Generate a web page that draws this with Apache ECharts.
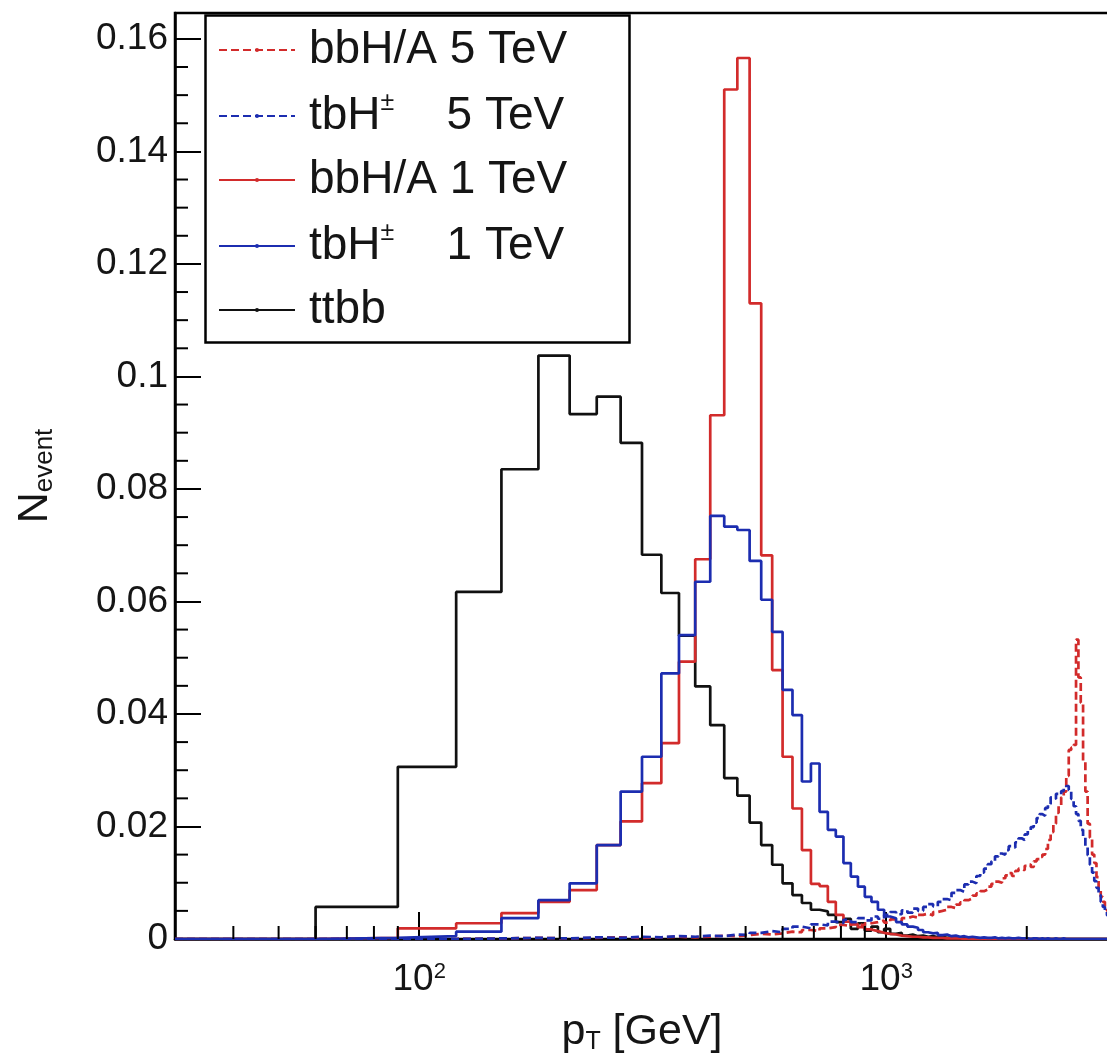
<!DOCTYPE html>
<html><head><meta charset="utf-8">
<script src="https://cdn.jsdelivr.net/npm/echarts@6/dist/echarts.min.js"></script>
<style>html,body{margin:0;padding:0;background:#fff}#c{width:1107px;height:1063px}</style>
</head><body><div id="c"></div>
<script>
// ---- binning (30 GeV bins from 30 to 3000 GeV) ----
const binWidth = 30;
const firstBinEdge = 30;
const xMin = 30, xMax = 3000;
const yMax = 0.1646;

const seriesNames = ['bbH/A 5 TeV', 'tbH\u00b1 5 TeV', 'bbH/A 1 TeV', 'tbH\u00b1 1 TeV', 'ttbb'];
const legendLabels = [
  '{f|bbH/A 5 TeV}',
  '{f|tbH}{s|\u00b1}{a|5 TeV}',
  '{f|bbH/A 1 TeV}',
  '{f|tbH}{s|\u00b1}{a|1 TeV}',
  '{f|ttbb}'
];

// bin contents, one value per 30 GeV bin (first bin 30-60 GeV)
const bbHA5 = [
  0, 0, 0, 0.0001, 0.0002, 0.0001, 0.0002, 0.0003, 0.0002, 0.0003,
  0.0004, 0.0003, 0.0004, 0.0006, 0.0005, 0.0007, 0.0009, 0.0008, 0.0010, 0.0013,
  0.0012, 0.0016, 0.0014, 0.0019, 0.0021, 0.0025, 0.0023, 0.0027, 0.0024, 0.0028,
  0.0030, 0.0033, 0.0029, 0.0035, 0.0032, 0.0037, 0.0040, 0.0038, 0.0043, 0.0045,
  0.0042, 0.0048, 0.0050, 0.0052, 0.0057, 0.0055, 0.0061, 0.0065, 0.0069, 0.0072,
  0.0077, 0.0081, 0.0085, 0.0088, 0.0093, 0.0098, 0.0102, 0.0100, 0.0108, 0.0113,
  0.0117, 0.0112, 0.0121, 0.0125, 0.0122, 0.0130, 0.0133, 0.0128, 0.0138, 0.0142,
  0.0146, 0.0150, 0.0160, 0.0176, 0.0190, 0.0205, 0.0224, 0.0236, 0.0252, 0.0262,
  0.0290, 0.0336, 0.0340, 0.0345, 0.0532, 0.0465, 0.0420, 0.0315, 0.0262, 0.0205,
  0.0180, 0.0150, 0.0135, 0.0110, 0.0090, 0.0075, 0.0066, 0.0056, 0.0050
];
const tbH5 = [
  0, 0, 0, 0.0001, 0.0002, 0.0001, 0.0003, 0.0002, 0.0004, 0.0003,
  0.0005, 0.0004, 0.0006, 0.0005, 0.0008, 0.0007, 0.0011, 0.0014, 0.0012, 0.0018,
  0.0022, 0.0019, 0.0026, 0.0024, 0.0031, 0.0028, 0.0034, 0.0030, 0.0037, 0.0033,
  0.0040, 0.0036, 0.0043, 0.0048, 0.0044, 0.0051, 0.0047, 0.0054, 0.0050, 0.0057,
  0.0062, 0.0058, 0.0066, 0.0071, 0.0069, 0.0082, 0.0087, 0.0084, 0.0097, 0.0102,
  0.0099, 0.0112, 0.0118, 0.0125, 0.0133, 0.0138, 0.0147, 0.0152, 0.0150, 0.0158,
  0.0165, 0.0162, 0.0172, 0.0179, 0.0176, 0.0186, 0.0192, 0.0199, 0.0207, 0.0215,
  0.0222, 0.0219, 0.0233, 0.0240, 0.0252, 0.0249, 0.0258, 0.0256, 0.0263, 0.0268,
  0.0272, 0.0265, 0.0249, 0.0236, 0.0222, 0.0210, 0.0194, 0.0181, 0.0163, 0.0149,
  0.0132, 0.0118, 0.0103, 0.0091, 0.0078, 0.0066, 0.0057, 0.0049, 0.0042
];
const bbHA1 = [
  0, 0.0002, 0.0019, 0.0028, 0.0046, 0.0066, 0.0087, 0.0167, 0.0209, 0.0277,
  0.0348, 0.0493, 0.0675, 0.0931, 0.1510, 0.1566, 0.1130, 0.0682, 0.0478, 0.0324,
  0.0232, 0.0158, 0.0098, 0.0094, 0.0066, 0.0043, 0.0031, 0.0026, 0.0021, 0.0017,
  0.0014, 0.0011, 0.0009, 0.0008, 0.0006, 0.0005, 0.0004, 0.0004, 0.0003, 0.0003,
  0.0002, 0.0002, 0.0002, 0.0001, 0.0001, 0.0001, 0.0001, 0, 0.0001, 0,
  0, 0, 0, 0, 0, 0, 0, 0, 0, 0,
  0, 0, 0, 0, 0, 0, 0, 0, 0, 0,
  0, 0, 0, 0, 0, 0, 0, 0, 0, 0,
  0, 0, 0, 0, 0, 0, 0, 0, 0, 0,
  0, 0, 0, 0, 0, 0, 0, 0, 0
];
const tbH1 = [
  0, 0.0002, 0.0005, 0.0013, 0.0037, 0.0069, 0.0099, 0.0167, 0.0262, 0.0324,
  0.0472, 0.0540, 0.0635, 0.0752, 0.0733, 0.0727, 0.0672, 0.0603, 0.0546, 0.0443,
  0.0398, 0.0280, 0.0312, 0.0226, 0.0194, 0.0182, 0.0135, 0.0111, 0.0093, 0.0075,
  0.0066, 0.0052, 0.0040, 0.0037, 0.0030, 0.0026, 0.0022, 0.0020, 0.0016, 0.0012,
  0.0010, 0.0011, 0.0007, 0.0008, 0.0005, 0.0006, 0.0004, 0.0005, 0.0003, 0.0004,
  0.0003, 0.0002, 0.0003, 0.0002, 0.0002, 0.0003, 0.0001, 0.0002, 0.0001, 0.0002,
  0.0001, 0.0001, 0.0002, 0.0001, 0.0001, 0.0001, 0, 0.0001, 0.0001, 0,
  0.0001, 0, 0.0001, 0, 0, 0.0001, 0, 0, 0.0001, 0,
  0, 0, 0, 0, 0, 0, 0, 0, 0, 0,
  0, 0, 0, 0, 0, 0, 0, 0, 0
];
const ttbb = [
  0, 0.0057, 0.0306, 0.0617, 0.0835, 0.1037, 0.0933, 0.0964, 0.0882, 0.0683,
  0.0615, 0.0539, 0.0449, 0.0380, 0.0286, 0.0255, 0.0207, 0.0167, 0.0132, 0.0099,
  0.0078, 0.0064, 0.0052, 0.0049, 0.0043, 0.0030, 0.0036, 0.0018, 0.0028, 0.0015,
  0.0022, 0.0012, 0.0018, 0.0009, 0.0011, 0.0006, 0.0008, 0.0005, 0.0006, 0.0004,
  0.0005, 0.0003, 0.0004, 0.0002, 0.0003, 0.0002, 0.0002, 0.0001, 0.0002, 0.0001,
  0.0001, 0.0001, 0, 0.0001, 0, 0, 0.0001, 0, 0, 0,
  0, 0, 0, 0, 0, 0, 0, 0, 0, 0,
  0, 0, 0, 0, 0, 0, 0, 0, 0, 0,
  0, 0, 0, 0, 0, 0, 0, 0, 0, 0,
  0, 0, 0, 0, 0, 0, 0, 0, 0
];

const xMinorTicks = [40, 50, 60, 70, 80, 90, 200, 300, 400, 500, 600, 700, 800, 900, 2000];
const yMinorTicks = [0.005, 0.01, 0.015, 0.025, 0.03, 0.035, 0.045, 0.05, 0.055, 0.065, 0.07, 0.075,
  0.085, 0.09, 0.095, 0.105, 0.11, 0.115, 0.125, 0.13, 0.135, 0.145, 0.15, 0.155];

const RED = '#d22b2b', BLUE = '#1c2db0', BLACK = '#111111';
const FONT = 'Liberation Sans';

function histPoints(vals) {
  const pts = [];
  for (let i = 0; i < vals.length; i++) pts.push([firstBinEdge + i * binWidth, vals[i]]);
  pts.push([firstBinEdge + vals.length * binWidth, vals[vals.length - 1]]);
  return pts;
}

// drawing order: ttbb underneath, blue histograms on top
const histDefs = [
  { name: seriesNames[4], vals: ttbb, color: BLACK, type: 'solid' },
  { name: seriesNames[0], vals: bbHA5, color: RED, type: [8, 4] },
  { name: seriesNames[2], vals: bbHA1, color: RED, type: 'solid' },
  { name: seriesNames[1], vals: tbH5, color: BLUE, type: [8, 4] },
  { name: seriesNames[3], vals: tbH1, color: BLUE, type: 'solid' }
];

const series = histDefs.map((d, k) => ({
  name: d.name, type: 'line', step: 'end', data: histPoints(d.vals),
  symbol: 'circle', symbolSize: 4, showSymbol: false, clip: true,
  lineStyle: { color: d.color, width: 2.7, type: d.type },
  itemStyle: { color: d.color }, z: 3 + k
}));

series.push({
  type: 'custom', name: 'xminor', silent: true, z: 9,
  data: xMinorTicks.map(v => [v, 0]),
  renderItem: function (params, api) {
    const p = api.coord([api.value(0), 0]);
    return { type: 'line', shape: { x1: p[0], y1: p[1], x2: p[0], y2: p[1] - 13 },
      style: { stroke: '#000', lineWidth: 2 } };
  }
});
series.push({
  type: 'custom', name: 'yminor', silent: true, z: 9,
  data: yMinorTicks.map(v => [xMin, v]),
  renderItem: function (params, api) {
    const p = api.coord([xMin, api.value(1)]);
    return { type: 'line', shape: { x1: p[0], y1: p[1], x2: p[0] + 13, y2: p[1] },
      style: { stroke: '#000', lineWidth: 2 } };
  }
});

const chart = echarts.init(document.getElementById('c'), null, { renderer: 'canvas' });
chart.setOption({
  animation: false,
  backgroundColor: '#ffffff',
  textStyle: { fontFamily: FONT },
  grid: { left: 175, top: 13, right: -2, bottom: 124, show: true, borderColor: '#000', borderWidth: 2.5,
    containLabel: false, outerBoundsMode: 'none' },
  xAxis: {
    type: 'log', logBase: 10, min: xMin, max: xMax,
    axisLine: { onZero: false, lineStyle: { color: '#000', width: 2.5 } },
    axisTick: { inside: true, length: 27, lineStyle: { color: '#000', width: 2 } },
    splitLine: { show: false },
    axisLabel: {
      margin: 22, showMinLabel: false, showMaxLabel: false,
      formatter: function (v) { return '{b|10}{s|' + Math.round(Math.log10(v)) + '}'; },
      rich: {
        b: { fontSize: 37, fontFamily: FONT, color: '#151515', lineHeight: 38 },
        s: { fontSize: 22, fontFamily: FONT, color: '#151515', lineHeight: 22, verticalAlign: 'top' }
      }
    },
    name: '{p|p}{t|T}{g| [GeV]}', nameLocation: 'middle', nameGap: 70,
    nameTextStyle: { rich: {
      p: { fontSize: 43, fontFamily: FONT, color: '#151515', lineHeight: 46 },
      t: { fontSize: 25, fontFamily: FONT, color: '#151515', lineHeight: 24, verticalAlign: 'bottom' },
      g: { fontSize: 43, fontFamily: FONT, color: '#151515', lineHeight: 46 }
    } }
  },
  yAxis: {
    type: 'value', min: 0, max: yMax, interval: 0.02,
    axisLine: { show: true, onZero: false, lineStyle: { color: '#000', width: 2.5 } },
    axisTick: { inside: true, length: 26, lineStyle: { color: '#000', width: 2 } },
    splitLine: { show: false },
    axisLabel: { margin: 7, fontSize: 37, fontFamily: FONT, color: '#151515', showMaxLabel: false,
      formatter: function (v) { return String(+v.toFixed(3)); } },
    name: '{n|N}{e|event}', nameLocation: 'middle', nameGap: 117, nameRotate: 90,
    nameTextStyle: { rich: {
      n: { fontSize: 43, fontFamily: FONT, color: '#151515', lineHeight: 46 },
      e: { fontSize: 26, fontFamily: FONT, color: '#151515', lineHeight: 26, verticalAlign: 'bottom' }
    } }
  },
  legend: {
    data: seriesNames, orient: 'vertical', left: 218, top: 27, padding: 0,
    itemWidth: 76, itemHeight: 5, itemGap: 18, selectedMode: false,
    formatter: function (name) { return legendLabels[seriesNames.indexOf(name)]; },
    textStyle: { rich: {
      f: { fontSize: 46, fontFamily: FONT, color: '#151515', lineHeight: 50, padding: [0, 0, 0, 9] },
      a: { fontSize: 46, fontFamily: FONT, color: '#151515', lineHeight: 50 },
      s: { fontSize: 25, fontFamily: FONT, color: '#151515', lineHeight: 25, verticalAlign: 'top', width: 66 }
    } }
  },
  graphic: [{
    type: 'rect', left: 203, top: 13, z: 10, silent: true,
    shape: { width: 424, height: 327 },
    style: { fill: 'none', stroke: '#000', lineWidth: 2.5 }
  }],
  series: series
});
</script></body></html>
